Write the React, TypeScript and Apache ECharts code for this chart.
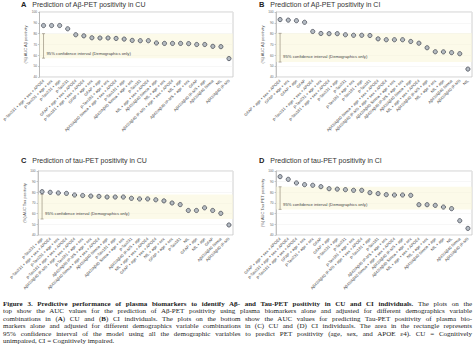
import React, { useEffect, useRef } from "react";
import * as echarts from "echarts";

// ---------- DATA ----------
const titlesLetter = ["A", "B", "C", "D"];
const titlesText = [
  "Prediction of Aβ-PET positivity in CU",
  "Prediction of Aβ-PET positivity in CI",
  "Prediction of tau-PET positivity in CU",
  "Prediction of tau-PET positivity in CI",
];
const yNames = [
  "(%) AUC Aβ positivity",
  "(%) AUC Aβ positivity",
  "(%) AUC Tau positivity",
  "(%) AUC Tau PET positivity",
];
const yTicks = [40, 50, 60, 70, 80, 90, 100];

const catsA = [
  "p-Tau231 + age + sex + APOE4", "p-Tau231 + age + sex", "p-Tau231 + age", "p-Tau231",
  "GFAP + age + sex + APOE4", "p-Tau181 + age + sex + APOE4", "GFAP + age + sex", "GFAP + age",
  "p-Tau181 + age + sex", "Aβ42/Aβ40 Simoa + age + sex + APOE4", "p-Tau181 + age",
  "Aβ42/Aβ40 Simoa + age + sex", "p-Tau181", "NfL + age + sex + APOE4", "Aβ42/Aβ40 Simoa + age",
  "NfL + age + sex", "Aβ42/Aβ40 IP-MS + age + sex + APOE4", "NfL + age",
  "Aβ42/Aβ40 IP-MS + age + sex", "GFAP", "Aβ42/Aβ40 IP-MS + age", "Aβ42/Aβ40 Simoa", "NfL",
  "Aβ42/Aβ40 IP-MS",
];
const valsA = [87.5, 87.5, 87.5, 84.5, 79, 78, 76.2, 76, 76, 75.6, 75, 73.8, 73.5, 73.5, 71.4, 71, 71, 71, 70.8, 70, 70, 68.3, 68, 57];

const catsB = [
  "GFAP + age + sex + APOE4", "GFAP + age + sex", "GFAP + age", "GFAP",
  "p-Tau231 + age + sex + APOE4", "p-Tau231 + age + sex", "p-Tau181 + age + sex + APOE4",
  "p-Tau231 + age", "p-Tau231", "p-Tau181 + age + sex", "p-Tau181 + age", "p-Tau181",
  "Aβ42/Aβ40 Simoa + age + sex + APOE4", "Aβ42/Aβ40 IP-MS + age + sex + APOE4",
  "Aβ42/Aβ40 Simoa + age + sex", "Aβ42/Aβ40 IP-MS + age + sex", "Aβ42/Aβ40 Simoa + age",
  "NfL + age + sex + APOE4", "Aβ42/Aβ40 IP-MS + age", "NfL + age + sex", "NfL + age",
  "Aβ42/Aβ40 Simoa", "Aβ42/Aβ40 IP-MS", "NfL",
];
const valsB = [93, 92.5, 92, 90.5, 82, 80.2, 80, 80, 79, 78.5, 78.5, 78.3, 75.2, 74.4, 74.4, 74.4, 72.8, 71.2, 67, 63.3, 63.2, 62.5, 61.5, 47.3];

const catsC = [
  "p-Tau231 + age", "p-Tau231 + age + sex + APOE4", "p-Tau231 + age + sex",
  "p-Tau181 + age + sex + APOE4", "Aβ42/Aβ40 IP-MS + age + sex + APOE4", "p-Tau181 + age + sex",
  "Aβ42/Aβ40 IP-MS + age + sex", "Aβ42/Aβ40 Simoa + age + sex + APOE4", "Aβ42/Aβ40 Simoa + age",
  "p-Tau181 + age", "Aβ42/Aβ40 Simoa + age + sex", "p-Tau231", "Aβ42/Aβ40 IP-MS + age",
  "NfL + age + sex + APOE4", "GFAP + age + sex + APOE4", "NfL + age + sex", "GFAP + age + sex",
  "p-Tau181", "NfL", "GFAP + age", "NfL + age", "GFAP", "Aβ42/Aβ40 Simoa", "Aβ42/Aβ40 IP-MS",
];
const valsC = [80.6, 80, 79.4, 79, 77.5, 77, 76.5, 76.2, 75.6, 75.6, 75.6, 74.4, 73.8, 73.8, 73, 72, 70, 68.5, 63, 63, 65.5, 63, 60.3, 49.4];

const catsD = [
  "GFAP + age + sex + APOE4", "p-Tau231 + age + sex + APOE4", "p-Tau181 + age + sex + APOE4",
  "GFAP + age + sex", "p-Tau231 + age + sex", "GFAP", "GFAP + age", "p-Tau231 + age", "p-Tau231",
  "p-Tau181 + age + sex", "Aβ42/Aβ40 IP-MS + age + sex + APOE4", "p-Tau181 + age", "p-Tau181",
  "Aβ42/Aβ40 IP-MS + age + sex", "Aβ42/Aβ40 Simoa + age + sex + APOE4", "Aβ42/Aβ40 IP-MS + age",
  "Aβ42/Aβ40 Simoa + age + sex", "NfL + age + sex + APOE4", "NfL + age + sex",
  "Aβ42/Aβ40 Simoa + age", "NfL + age", "NfL", "Aβ42/Aβ40 Simoa", "Aβ42/Aβ40 IP-MS",
];
const valsD = [94.7, 92.2, 88.8, 87.2, 86.6, 85.3, 83.4, 83, 82.5, 81.9, 81.9, 79.7, 78.8, 77.8, 77.5, 77.5, 77.2, 68.4, 68.4, 67.8, 66.2, 64.7, 53.4, 46.2];

// 95% CI of demographics-only model: [low, high], and label height
const ciLow = [57.4, 53.8, 55, 64];
const ciHigh = [80, 80.3, 78, 85.2];
const ciLabelY = [62, 58.8, 60.2, 69];
const ciLabel = "95% confidence interval (Demographics only)";

// caption: each line is a list of [text, bold]
const captionLines: [string, boolean][][] = [
  [["Figure 3. Predictive performance of plasma biomarkers to identify Aβ- and Tau-PET positivity in CU and CI individuals.", true], [" The plots on the", false]],
  [["top show the AUC values for the prediction of Aβ-PET positivity using plasma biomarkers alone and adjusted for different demographics variable", false]],
  [["combinations in (", false], ["A", true], [") CU and (", false], ["B", true], [") CI individuals. The plots on the bottom show the AUC values for predicting Tau-PET positivity of plasma bio-", false]],
  [["markers alone and adjusted for different demographics variable combinations in (C) CU and (D) CI individuals. The area in the rectangle represents", false]],
  [["95% confidence interval of the model using all the demographic variables to predict PET positivity (age, sex, and APOE ε4). CU = Cognitively", false]],
  [["unimpaired, CI = Cognitively impaired.", false]],
];

const cats = [catsA, catsB, catsC, catsD];
const vals = [valsA, valsB, valsC, valsD];

// ---------- LAYOUT ----------
const gridPos = [
  { left: 38, top: 12, width: 195, height: 65 },
  { left: 276, top: 12, width: 196, height: 65 },
  { left: 38, top: 171, width: 195, height: 64 },
  { left: 276, top: 171, width: 196, height: 64 },
];
const titlePos = [
  { left: 21, top: 0 },
  { left: 259, top: 0 },
  { left: 21, top: 156 },
  { left: 259, top: 156 },
];

const SANS = "'Liberation Sans', Arial, Helvetica, sans-serif";

export default function App() {
  const ref = useRef<HTMLDivElement>(null);
  useEffect(() => {
    document.body.style.margin = "0";
    if (!ref.current) return;
    const chart = echarts.init(ref.current, undefined, { renderer: "svg" });
    const option: any = {
      animation: false,
      backgroundColor: "#ffffff",
      textStyle: { fontFamily: SANS },
      title: titlesLetter.map((l, i) => ({
        text: `{b|${l}}   {n|${titlesText[i]}}`,
        left: titlePos[i].left,
        top: titlePos[i].top,
        padding: 0,
        textStyle: {
          fontWeight: "normal",
          fontSize: 7,
          rich: {
            b: { fontSize: 7.5, fontWeight: "bold", color: "#222", fontFamily: SANS },
            n: { fontSize: 7, fontWeight: "normal", color: "#333", fontFamily: SANS },
          },
        },
      })),
      grid: gridPos.map((g) => ({
        ...g,
        show: true,
        borderColor: "#c4c4c4",
        borderWidth: 0.8,
        backgroundColor: "transparent",
      })),
      xAxis: cats.map((c, i) => ({
        type: "category",
        gridIndex: i,
        data: c,
        axisLine: { show: false },
        axisTick: { show: false },
        splitLine: { show: false },
        axisLabel: {
          interval: 0,
          rotate: 45,
          fontSize: 4,
          color: "#444",
          margin: 3,
          fontFamily: SANS,
        },
      })),
      yAxis: cats.map((_, i) => ({
        type: "value",
        gridIndex: i,
        min: yTicks[0],
        max: yTicks[yTicks.length - 1],
        interval: 10,
        name: yNames[i],
        nameLocation: "middle",
        nameGap: 10,
        nameTextStyle: { fontSize: 4, color: "#555", fontFamily: SANS },
        axisLine: { show: true, lineStyle: { color: "#aaa", width: 0.6 } },
        axisTick: { show: true, length: 1.5, lineStyle: { color: "#999", width: 0.5 } },
        axisLabel: { fontSize: 3.2, color: "#666", margin: 2.5, fontFamily: SANS },
        splitLine: { show: true, lineStyle: { color: "#efefef", width: 0.5 } },
      })),
      series: [
        ...vals.map((v, i) => ({
          type: "scatter",
          xAxisIndex: i,
          yAxisIndex: i,
          data: v,
          symbol: "circle",
          symbolSize: 4.2,
          z: 5,
          itemStyle: { color: "#a3abb5", borderColor: "#3d424c", borderWidth: 0.9 },
          markArea: {
            silent: true,
            itemStyle: { color: "rgba(250,245,215,0.55)" },
            data: [[{ yAxis: ciLow[i] }, { yAxis: ciHigh[i] }]],
          },
        })),
        ...vals.map((_, i) => ({
          type: "custom",
          xAxisIndex: i,
          yAxisIndex: i,
          z: 4,
          silent: true,
          data: [[0, ciLow[i], ciHigh[i], ciLabelY[i]]],
          encode: { x: 0, y: [1, 2] },
          renderItem: (params: any, api: any) => {
            const lo = api.coord([api.value(0), api.value(1)]);
            const hi = api.coord([api.value(0), api.value(2)]);
            const tp = api.coord([api.value(0), api.value(3)]);
            const cap = 1.5;
            const ls = { stroke: "#9a9080", lineWidth: 0.7 };
            return {
              type: "group",
              children: [
                { type: "line", shape: { x1: lo[0], y1: lo[1], x2: hi[0], y2: hi[1] }, style: ls },
                { type: "line", shape: { x1: lo[0] - cap, y1: lo[1], x2: lo[0] + cap, y2: lo[1] }, style: ls },
                { type: "line", shape: { x1: hi[0] - cap, y1: hi[1], x2: hi[0] + cap, y2: hi[1] }, style: ls },
                {
                  type: "text",
                  x: tp[0] + 3,
                  y: tp[1],
                  style: {
                    text: ciLabel,
                    fontSize: 4.2,
                    fill: "#444",
                    fontFamily: SANS,
                    verticalAlign: "middle",
                    align: "left",
                  },
                },
              ],
            };
          },
        })),
      ],
    };
    chart.setOption(option);
    return () => chart.dispose();
  }, []);

  return (
    <div style={{ position: "relative", width: 474, height: 358, background: "#fff", overflow: "hidden" }}>
      <div ref={ref} style={{ position: "absolute", left: 0, top: 0, width: 474, height: 300 }} />
      <div
        style={{
          position: "absolute",
          left: 3,
          top: 300.5,
          width: 469,
          fontFamily: "'Liberation Serif', 'Times New Roman', serif",
          fontSize: 7,
          lineHeight: "7.5px",
          color: "#222",
        }}
      >
        {captionLines.map((ln, i) => {
          const last = i === captionLines.length - 1;
          return (
            <div
              key={i}
              style={{
                whiteSpace: "nowrap",
                height: 7.5,
                textAlign: last ? "left" : "justify",
                textAlignLast: last ? "left" : "justify",
              } as any}
            >
              {ln.map(([t, b], j) =>
                b ? <b key={j}>{t}</b> : <React.Fragment key={j}>{t}</React.Fragment>
              )}
            </div>
          );
        })}
      </div>
    </div>
  );
}
